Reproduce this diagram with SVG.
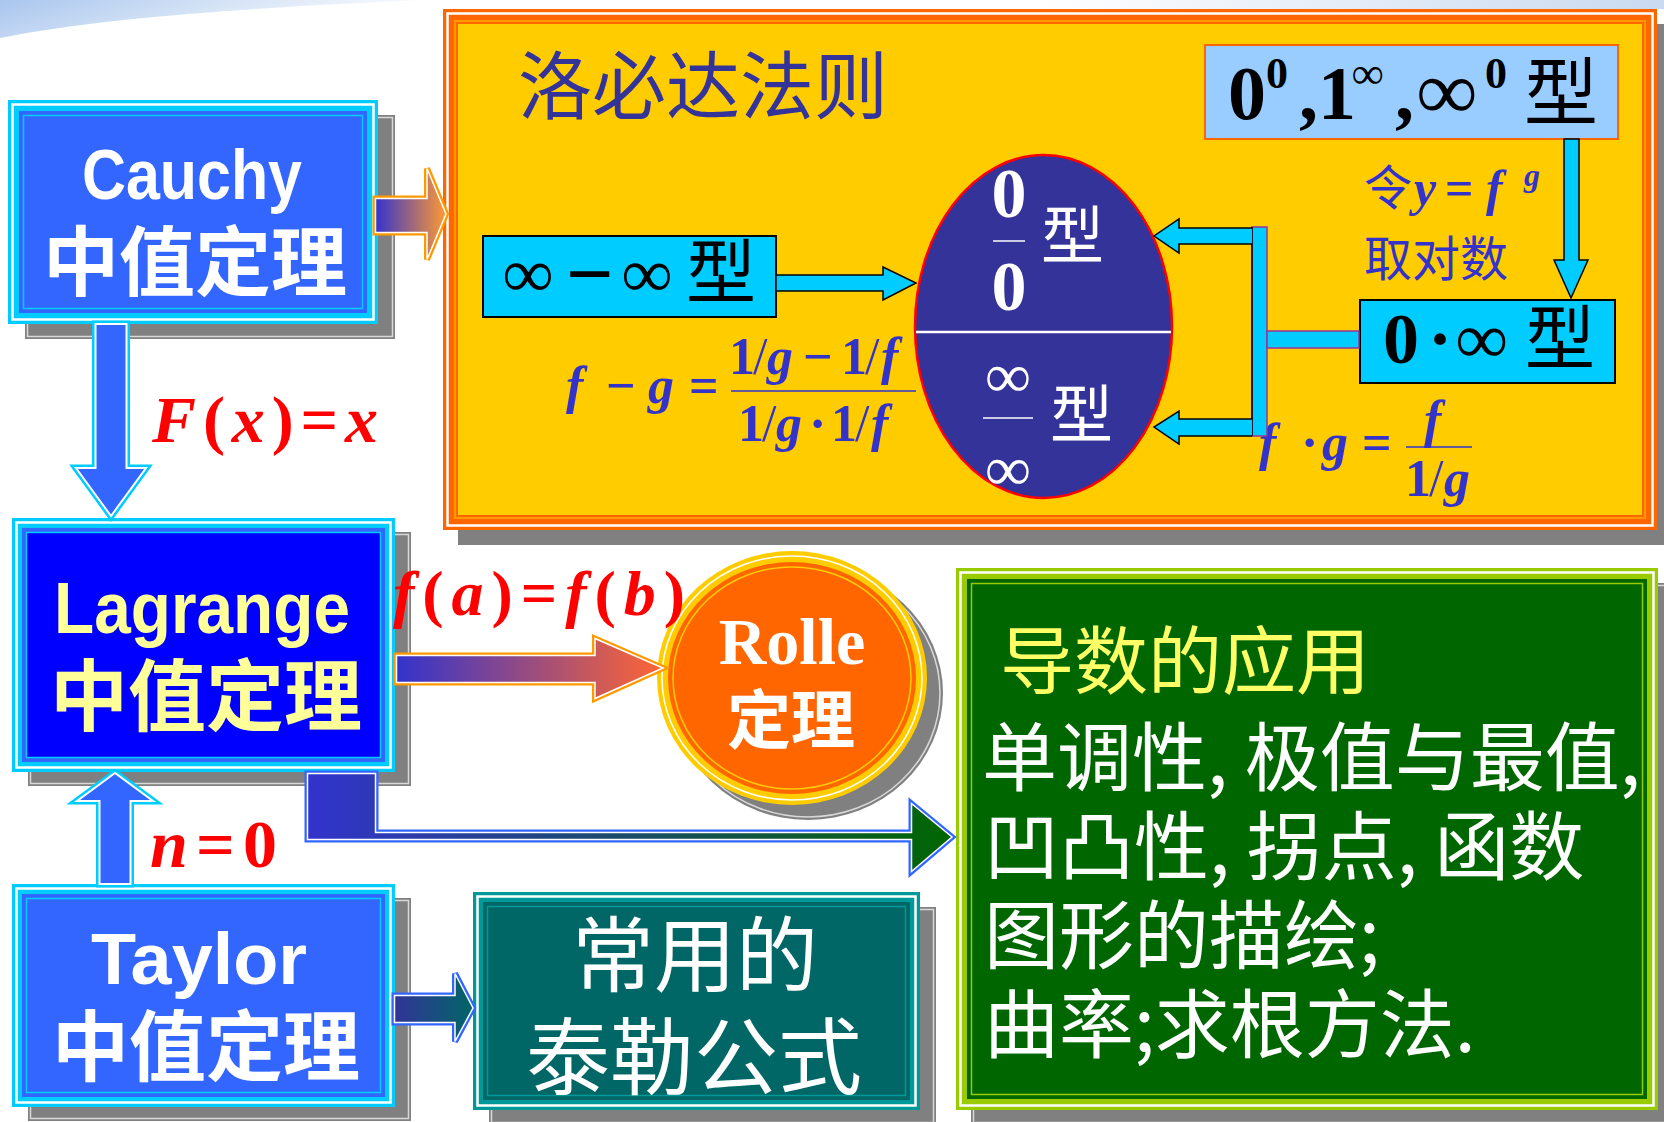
<svg xmlns="http://www.w3.org/2000/svg" width="1664" height="1122" viewBox="0 0 1664 1122">
<style>
.shadow{fill:#808080}
.shl{fill:none;stroke:#d8d8d8;stroke-width:1.5}
.wl{fill:none;stroke:#fff;stroke-width:2.5}
.cjk{font-family:"Noto Sans CJK SC","Noto Sans CJK JP",sans-serif}
.lat{font-family:"Liberation Sans",Arial,sans-serif;font-weight:bold}
.math{font-family:"Liberation Serif","Times New Roman",serif;font-weight:bold}
.it{font-style:italic}
.blk{fill:#00CCFF;stroke:#000;stroke-width:1.5;stroke-linejoin:miter}
.fm{fill:#3333CC}
.red{fill:#FF0000}
</style>
<defs>
<linearGradient id="sw" x1="0" y1="0" x2="1" y2="0.3">
<stop offset="0" stop-color="#A9C6EE"/><stop offset="0.6" stop-color="#DCE8F7"/><stop offset="1" stop-color="#FFFFFF"/>
</linearGradient>
<linearGradient id="tr" x1="0" y1="0" x2="1" y2="0">
<stop offset="0" stop-color="#FFFFFF"/><stop offset="1" stop-color="#C9DAF0"/>
</linearGradient>
<linearGradient id="gC" x1="0" y1="0" x2="1" y2="0"><stop offset="0" stop-color="#3333CC"/><stop offset="1" stop-color="#FF9933"/></linearGradient>
<linearGradient id="gR" x1="0" y1="0" x2="1" y2="0"><stop offset="0" stop-color="#3333CC"/><stop offset="1" stop-color="#FF6633"/></linearGradient>
<linearGradient id="gT" x1="0" y1="0" x2="1" y2="0"><stop offset="0" stop-color="#333399"/><stop offset="1" stop-color="#006666"/></linearGradient>
<linearGradient id="gB" x1="0" y1="0" x2="1" y2="0"><stop offset="0" stop-color="#3333CC"/><stop offset="1" stop-color="#006600"/></linearGradient>
</defs>
<rect width="1664" height="1122" fill="#fff"/>
<path d="M0,0 H420 C300,6 120,14 0,38 Z" fill="url(#sw)"/>
<rect x="1040" y="0" width="624" height="9" fill="url(#tr)"/>

<g id="lhopital">
<rect class="shadow" x="458" y="24" width="1214" height="521"/>
<rect x="443" y="9" width="1214" height="521" fill="#FF6600"/>
<rect class="wl" x="447.5" y="13.5" width="1205" height="512"/>
<rect x="454" y="20" width="1192" height="499" fill="#FF9900"/>
<rect x="457" y="23" width="1186" height="493" fill="#FFCC00" stroke="#FF6600" stroke-width="2"/>
<text class="cjk" x="518" y="113" font-size="74" fill="#333399">洛必达法则</text>
</g>

<g id="n-pow">
<rect x="1205" y="45" width="413" height="94" fill="#99CCFF" stroke="#FF6600" stroke-width="2"/>
<text class="math" font-size="76" y="119" fill="#000"><tspan x="1228">0</tspan><tspan x="1266" y="88" font-size="44">0</tspan><tspan x="1299" y="119">,</tspan><tspan x="1318">1</tspan><tspan x="1352" y="88" font-size="44">∞</tspan><tspan x="1395" y="119">,</tspan><tspan x="1417" font-size="84">∞</tspan><tspan x="1485" y="88" font-size="44">0</tspan></text>
<text class="cjk" x="1524" y="119" font-size="74" fill="#000">型</text>
</g>

<g id="n-zero-inf">
<rect x="1360" y="300" width="255" height="83" fill="#00CCFF" stroke="#000" stroke-width="2"/>
<text class="math" font-size="72" y="363" fill="#000"><tspan x="1383">0</tspan><tspan x="1428">·</tspan><tspan x="1456">∞</tspan></text>
<text class="cjk" x="1525" y="364" font-size="70" fill="#000">型</text>
</g>

<g id="n-inf-minus-inf">
<rect x="483" y="236" width="293" height="81" fill="#00CCFF" stroke="#000" stroke-width="2"/>
<text class="math" font-size="70" y="297" fill="#000"><tspan x="503">∞</tspan><tspan x="566" y="302" font-size="84">−</tspan><tspan x="622" y="297">∞</tspan></text>
<text class="cjk" x="686" y="298" font-size="70" fill="#000">型</text>
</g>

<g id="n-ellipse">
<ellipse cx="1043.5" cy="326.5" rx="128.5" ry="171.5" fill="#333399" stroke="#FF0000" stroke-width="2.5"/>
<line x1="916" y1="332" x2="1171" y2="332" stroke="#fff" stroke-width="2.5"/>
<text class="math" font-size="70" fill="#fff" text-anchor="middle"><tspan x="1009" y="217">0</tspan><tspan x="1009" y="310">0</tspan></text>
<line x1="993" y1="241" x2="1025" y2="241" stroke="#fff" stroke-width="1.5"/>
<text class="cjk" x="1041" y="258" font-size="63" fill="#fff">型</text>
<text class="math" font-size="63" fill="#fff" text-anchor="middle" font-weight="normal"><tspan x="1008" y="397">∞</tspan><tspan x="1008" y="490">∞</tspan></text>
<line x1="983" y1="418" x2="1033" y2="418" stroke="#fff" stroke-width="1.5"/>
<text class="cjk" x="1050" y="437" font-size="63" fill="#fff">型</text>
</g>

<g id="lbl-fg-minus">
<text class="math fm" font-size="52" y="403"><tspan x="566" class="it">f</tspan><tspan x="606">−</tspan><tspan x="648" class="it">g</tspan><tspan x="689">=</tspan></text>
<line x1="731" y1="391" x2="916" y2="391" stroke="#3333CC" stroke-width="1.5"/>
<text class="math fm" font-size="52" y="374"><tspan x="729">1</tspan><tspan x="753" font-weight="normal">/</tspan><tspan x="767" class="it">g</tspan><tspan x="803">−</tspan><tspan x="841">1</tspan><tspan x="865" font-weight="normal">/</tspan><tspan x="881" class="it">f</tspan></text>
<text class="math fm" font-size="52" y="441"><tspan x="738">1</tspan><tspan x="762" font-weight="normal">/</tspan><tspan x="776" class="it">g</tspan><tspan x="809">·</tspan><tspan x="831">1</tspan><tspan x="855" font-weight="normal">/</tspan><tspan x="871" class="it">f</tspan></text>
</g>

<g id="lbl-let-y">
<text class="cjk fm" x="1364" y="205" font-size="48">令</text>
<text class="math fm" font-size="50" y="205"><tspan x="1414" class="it">y</tspan><tspan x="1445">=</tspan><tspan x="1486" class="it">f</tspan><tspan x="1524" y="186" font-size="32" class="it">g</tspan></text>
<text class="cjk fm" x="1364" y="276" font-size="48">取对数</text>
</g>

<g id="lbl-fg-times">
<text class="math fm" font-size="52" y="460"><tspan x="1259" class="it">f</tspan><tspan x="1301">·</tspan><tspan x="1322" class="it">g</tspan><tspan x="1362">=</tspan></text>
<line x1="1406" y1="447" x2="1472" y2="447" stroke="#3333CC" stroke-width="1.5"/>
<text class="math fm it" font-size="52" x="1424" y="437">f</text>
<text class="math fm" font-size="52" y="496"><tspan x="1405">1</tspan><tspan x="1429" font-weight="normal">/</tspan><tspan x="1444" class="it">g</tspan></text>
</g>

<g id="cauchy">
<rect class="shadow" x="25" y="115" width="370" height="224"/>
<rect class="shl" x="27.5" y="117.5" width="365" height="219"/>
<rect x="8" y="100" width="370" height="224" fill="#00CCFF"/>
<rect class="wl" x="12.5" y="104.5" width="361" height="215"/>
<rect x="19" y="111" width="348" height="202" fill="#3366FF"/>
<rect x="23.5" y="115.5" width="339" height="193" fill="#3366FF" stroke="#00CCFF" stroke-width="1.5"/>
<text class="lat" x="82" y="199" font-size="70" fill="#fff" textLength="220" lengthAdjust="spacingAndGlyphs">Cauchy</text>
<text class="cjk" x="195" y="290" font-size="76" font-weight="bold" fill="#fff" text-anchor="middle">中值定理</text>
</g>

<g id="lagrange">
<rect class="shadow" x="28" y="532" width="383" height="254"/>
<rect class="shl" x="30.5" y="534.5" width="378" height="249"/>
<rect x="12" y="518" width="383" height="254" fill="#00CCFF"/>
<rect class="wl" x="16.5" y="522.5" width="374" height="245"/>
<rect x="22" y="528" width="363" height="234" fill="#3366FF"/>
<rect x="26.5" y="532.5" width="354" height="225" fill="#0000FF" stroke="#00CCFF" stroke-width="1.5"/>
<text class="lat" x="54" y="633" font-size="72" fill="#FFFF99" textLength="296" lengthAdjust="spacingAndGlyphs">Lagrange</text>
<text class="cjk" x="206" y="725" font-size="78" font-weight="bold" fill="#FFFF99" text-anchor="middle">中值定理</text>
</g>

<g id="taylor">
<rect class="shadow" x="28" y="898" width="383" height="223"/>
<rect class="shl" x="30.5" y="900.5" width="378" height="218"/>
<rect x="12" y="884" width="383" height="223" fill="#00CCFF"/>
<rect class="wl" x="16.5" y="888.5" width="374" height="214"/>
<rect x="22" y="894" width="363" height="203" fill="#3366FF"/>
<rect x="26.5" y="898.5" width="354" height="194" fill="#3366FF" stroke="#00CCFF" stroke-width="1.5"/>
<text class="lat" x="91" y="984" font-size="72" fill="#fff" textLength="216" lengthAdjust="spacingAndGlyphs">Taylor</text>
<text class="cjk" x="206" y="1075" font-size="77" font-weight="bold" fill="#fff" text-anchor="middle">中值定理</text>
</g>

<g id="rolle">
<ellipse cx="808" cy="693" rx="135" ry="127" class="shadow"/>
<ellipse cx="808" cy="693" rx="132" ry="124" class="shl"/>
<ellipse cx="792" cy="678" rx="135" ry="127" fill="#FFCC00"/>
<ellipse cx="792" cy="678" rx="130" ry="122" fill="none" stroke="#fff" stroke-width="1.5"/>
<ellipse cx="792" cy="678" rx="124" ry="116" fill="#FF6600"/>
<ellipse cx="792" cy="678" rx="119" ry="111" fill="none" stroke="#FFCC00" stroke-width="1.5"/>
<text class="math" x="792" y="664" font-size="66" fill="#fff" text-anchor="middle">Rolle</text>
<text class="cjk" x="791" y="743" font-size="64" font-weight="bold" fill="#fff" text-anchor="middle">定理</text>
</g>

<g id="taylor-formulas">
<rect class="shadow" x="489" y="907" width="447" height="218"/>
<rect class="shl" x="491.5" y="909.5" width="442" height="213"/>
<rect x="473" y="892" width="447" height="218" fill="#009999"/>
<rect class="wl" x="477.5" y="896.5" width="438" height="209"/>
<rect x="483" y="902" width="427" height="198" fill="#006666"/>
<rect x="487.5" y="906.5" width="418" height="189" fill="#006666" stroke="#009999" stroke-width="1.5"/>
<text class="cjk" x="695" y="985" font-size="82" fill="#fff" text-anchor="middle">常用的</text>
<text class="cjk" x="694" y="1088" font-size="84" fill="#fff" text-anchor="middle">泰勒公式</text>
</g>

<g id="applications">
<rect class="shadow" x="971" y="583" width="702" height="542"/>
<rect class="shl" x="973.5" y="585.5" width="697" height="537"/>
<rect x="956" y="568" width="702" height="542" fill="#99CC00"/>
<rect class="wl" x="960.5" y="572.5" width="693" height="533"/>
<rect x="967" y="579" width="680" height="520" fill="#006600"/>
<rect x="971.5" y="583.5" width="671" height="511" fill="#006600" stroke="#99CC00" stroke-width="1.5"/>
<text class="cjk" x="1000" y="688" font-size="74" fill="#FFFF66">导数的应用</text>
<text class="cjk" font-size="75" fill="#fff"><tspan x="982" y="785">单调性, 极值与最值,</tspan><tspan x="984" y="874">凹凸性, 拐点, 函数</tspan><tspan x="984" y="963">图形的描绘;</tspan><tspan x="984" y="1052">曲率;求根方法.</tspan></text>
</g>

<g id="connectors">
<g stroke-linejoin="miter">
<path d="M95.5,324 H126.5 V468 H146 L111,516 L76,468 H95.5 Z" fill="none" stroke="#00CCFF" stroke-width="7"/>
<path d="M95.5,324 H126.5 V468 H146 L111,516 L76,468 H95.5 Z" fill="#3366FF" stroke="#fff" stroke-width="2"/>
<path d="M99.5,884 V801 H77 L115,773 L153,801 H130.5 V884 Z" fill="none" stroke="#00CCFF" stroke-width="7"/>
<path d="M99.5,884 V801 H77 L115,773 L153,801 H130.5 V884 Z" fill="#3366FF" stroke="#fff" stroke-width="2"/>
<path d="M375.5,198.5 H427 V168.5 L446,214 L427,259.5 V232.5 H375.5 Z" fill="none" stroke="#FF9900" stroke-width="6"/>
<path d="M375.5,198.5 H427 V168.5 L446,214 L427,259.5 V232.5 H375.5 Z" fill="url(#gC)" stroke="#fff" stroke-width="1.5"/>
<path d="M396.5,655.5 H595 V638.5 L663,668 L595,698.5 V682.5 H396.5 Z" fill="none" stroke="#FF9900" stroke-width="6"/>
<path d="M396.5,655.5 H595 V638.5 L663,668 L595,698.5 V682.5 H396.5 Z" fill="url(#gR)" stroke="#fff" stroke-width="1.5"/>
<path d="M394.5,995.5 H455 V973.5 L473,1008 L455,1041.5 V1022.5 H394.5 Z" fill="none" stroke="#3366FF" stroke-width="6"/>
<path d="M394.5,995.5 H455 V973.5 L473,1008 L455,1041.5 V1022.5 H394.5 Z" fill="url(#gT)" stroke="#fff" stroke-width="1.5"/>
<path d="M307.5,773.5 H375.5 V832.5 H911.5 V803.5 L952,837 L911.5,871.5 V839.5 H307.5 Z" fill="none" stroke="#3366FF" stroke-width="6"/>
<path d="M307.5,773.5 H375.5 V832.5 H911.5 V803.5 L952,837 L911.5,871.5 V839.5 H307.5 Z" fill="url(#gB)" stroke="#fff" stroke-width="1.5"/>
</g>
<path class="blk" d="M776,275 H883 V267 L916,283 L883,300 V291 H776 Z"/>
<path class="blk" d="M1564,139 H1579 V260 H1588 L1571,298 L1554,260 H1564 Z"/>
<rect x="1252" y="227" width="15" height="209" fill="#00CCFF" stroke="#993399" stroke-width="1.5"/>
<line x1="1252" y1="227" x2="1252" y2="436" stroke="#000" stroke-width="1.5"/>
<rect x="1267" y="331" width="92" height="17" fill="#00CCFF" stroke="#993399" stroke-width="1.5"/>
<path class="blk" d="M1252,228 H1179 V219 L1154,236 L1179,253 V244 H1252"/>
<path class="blk" d="M1252,419 H1179 V411 L1154,427 L1179,444 V436 H1252"/>
</g>

<g id="labels">
<text class="math red" font-size="66" x="152" y="442" textLength="226" lengthAdjust="spacing"><tspan class="it">F</tspan>(<tspan class="it">x</tspan>)=<tspan class="it">x</tspan></text>
<text class="math red" font-size="64" x="393" y="615" textLength="292" lengthAdjust="spacing"><tspan class="it">f</tspan>(<tspan class="it">a</tspan>)=<tspan class="it">f</tspan>(<tspan class="it">b</tspan>)</text>
<text class="math red" font-size="68" x="150" y="867" textLength="127" lengthAdjust="spacing"><tspan class="it">n</tspan>=0</text>
</g>
</svg>
